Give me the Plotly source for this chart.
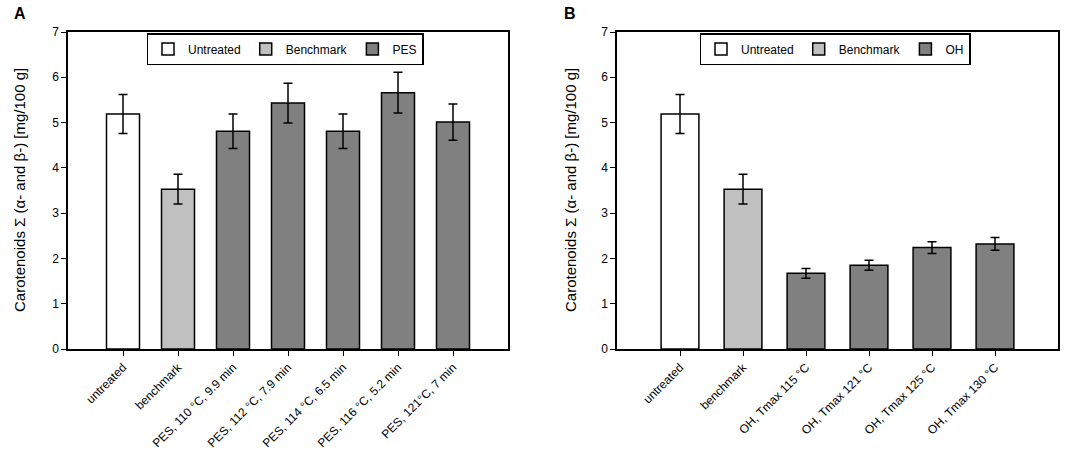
import plotly.graph_objects as go

# panel A data
catsA = ['untreated', 'benchmark', 'PES, 110 °C, 9.9 min', 'PES, 112 °C, 7.9 min',
         'PES, 114 °C, 6.5 min', 'PES, 116 °C, 5.2 min', 'PES, 121°C, 7 min']
valsA = [5.19, 3.53, 4.81, 5.43, 4.81, 5.66, 5.01]
errA = [0.43, 0.33, 0.38, 0.44, 0.38, 0.45, 0.40]

# panel B data
catsB = ['untreated', 'benchmark', 'OH, Tmax 115 °C', 'OH, Tmax 121 °C',
         'OH, Tmax 125 °C', 'OH, Tmax 130 °C']
valsB = [5.19, 3.53, 1.67, 1.85, 2.24, 2.32]
errB = [0.43, 0.33, 0.11, 0.11, 0.13, 0.14]

groups = ['Untreated', 'Benchmark']
colors = ['#ffffff', '#c0c0c0', '#808080']
FONT = 'Liberation Sans, Arial, sans-serif'

fig = go.Figure()


def add_panel(cats, vals, errs, last_name, xa, ya, legend):
    names = groups + [last_name]
    parts = [(0, 1), (1, 2), (2, len(cats))]
    for (a, b), name, col in zip(parts, names, colors):
        fig.add_trace(go.Bar(
            x=cats[a:b], y=vals[a:b], name=name, width=0.6,
            marker=dict(color=col, line=dict(color='black', width=1.5)),
            error_y=dict(type='data', array=errs[a:b], color='black', thickness=1.5, width=4.5),
            xaxis=xa, yaxis=ya, legend=legend,
        ))


add_panel(catsA, valsA, errA, 'PES', 'x', 'y', 'legend')
add_panel(catsB, valsB, errB, 'OH', 'x2', 'y2', 'legend2')

ax_common = dict(showline=True, linecolor='black', linewidth=1.5, mirror=True,
                 ticks='outside', ticklen=5, tickwidth=1.2, tickcolor='black',
                 showgrid=False, zeroline=False, automargin=False,
                 tickfont=dict(size=12, color='black', family=FONT))
ydom = [110 / 459, 427 / 459]

legend_common = dict(orientation='h', xanchor='center', yanchor='top',
                     bordercolor='black', borderwidth=1.5, bgcolor='white',
                     font=dict(size=12, color='black', family=FONT))

ytitle = 'Carotenoids Σ (α- and β-) [mg/100 g]'

fig.update_layout(
    width=1084, height=459,
    margin=dict(l=0, r=0, t=0, b=0),
    paper_bgcolor='white', plot_bgcolor='white',
    barmode='overlay',
    font=dict(family=FONT, color='black'),
    xaxis=dict(ax_common, domain=[68 / 1084, 508 / 1084], type='category',
               categoryorder='array', categoryarray=catsA, range=[-1, 7], tickangle=-45, anchor='y'),
    yaxis=dict(ax_common, domain=ydom, range=[0, 7], dtick=1, anchor='x'),
    xaxis2=dict(ax_common, domain=[617 / 1084, 1058 / 1084], type='category',
                categoryorder='array', categoryarray=catsB, range=[-1, 6], tickangle=-45, anchor='y2'),
    yaxis2=dict(ax_common, domain=ydom, range=[0, 7], dtick=1, anchor='x2'),
    legend=dict(legend_common, x=285 / 1084, y=1 - 33 / 459),
    legend2=dict(legend_common, x=835 / 1084, y=1 - 33 / 459),
    showlegend=True,
    annotations=[
        dict(text='<b>A</b>', x=12 / 1084, y=1 - 13 / 459, xref='paper', yref='paper',
             xanchor='left', yanchor='middle', showarrow=False, font=dict(size=16)),
        dict(text='<b>B</b>', x=562 / 1084, y=1 - 13 / 459, xref='paper', yref='paper',
             xanchor='left', yanchor='middle', showarrow=False, font=dict(size=16)),
        dict(text=ytitle, x=19 / 1084, y=1 - 190 / 459, xref='paper', yref='paper',
             xanchor='center', yanchor='middle',
             textangle=-90, showarrow=False, font=dict(size=15)),
        dict(text=ytitle, x=570 / 1084, y=1 - 190 / 459, xref='paper', yref='paper',
             xanchor='center', yanchor='middle',
             textangle=-90, showarrow=False, font=dict(size=15)),
    ],
)

fig.write_html('out.html', config={'displayModeBar': False},
               post_script="document.body.style.margin='0';")
